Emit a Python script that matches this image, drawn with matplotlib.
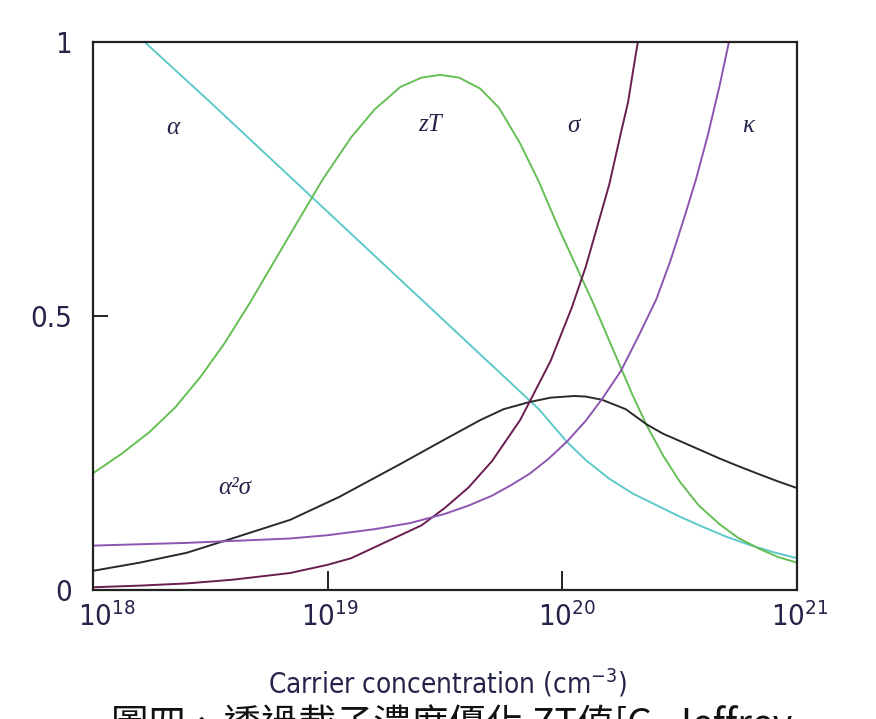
#!/usr/bin/env python3
"""Thermoelectric properties vs carrier concentration (alpha, sigma, kappa, zT)."""

import matplotlib
import numpy as np

matplotlib.use("Agg")
import matplotlib.pyplot as plt
from matplotlib.transforms import ScaledTranslation

# log10 of carrier concentration (cm^-3) and normalised values
alpha_logn = [18.22, 18.5, 18.8, 19.1, 19.4, 19.7, 19.9, 20.02, 20.1, 20.2, 20.3, 20.4,
              20.5, 20.6, 20.7, 20.8, 20.9, 21.0]
alpha_val = [1.0, 0.89, 0.77, 0.65, 0.53, 0.41, 0.33, 0.27, 0.237, 0.203, 0.176, 0.155,
             0.134, 0.115, 0.097, 0.082, 0.069, 0.058]

zt_logn = [18.0, 18.12, 18.24, 18.35, 18.46, 18.56, 18.67, 18.77, 18.88, 18.98, 19.1, 19.2,
           19.31, 19.4, 19.48, 19.56, 19.65, 19.73, 19.82, 19.9, 19.99, 20.06, 20.13, 20.19,
           20.25, 20.3, 20.36, 20.43, 20.5, 20.58, 20.67, 20.75, 20.84, 20.92, 21.0]
zt_val = [0.213, 0.248, 0.288, 0.333, 0.39, 0.45, 0.525, 0.598, 0.678, 0.75, 0.826, 0.877,
          0.918, 0.935, 0.94, 0.935, 0.915, 0.88, 0.815, 0.745, 0.655, 0.59, 0.525, 0.465,
          0.405, 0.355, 0.30, 0.245, 0.198, 0.155, 0.12, 0.095, 0.075, 0.06, 0.05]

pf_logn = [18.0, 18.2, 18.4, 18.6, 18.84, 19.05, 19.31, 19.5, 19.65, 19.75, 19.86, 19.95,
           20.05, 20.1, 20.17, 20.27, 20.36, 20.43, 20.5, 20.67, 20.75, 20.84, 20.92, 21.0]
pf_val = [0.035, 0.05, 0.068, 0.095, 0.128, 0.17, 0.23, 0.275, 0.31, 0.33, 0.343, 0.351,
          0.354, 0.353, 0.347, 0.33, 0.302, 0.285, 0.272, 0.24, 0.226, 0.211, 0.198, 0.186]

sigma_logn = [18.0, 18.2, 18.4, 18.6, 18.84, 19.0, 19.1, 19.31, 19.4, 19.5, 19.6, 19.7,
              19.82, 19.86, 19.95, 20.04, 20.1, 20.15, 20.2, 20.25, 20.28, 20.31, 20.35]
sigma_val = [0.005, 0.008, 0.012, 0.019, 0.031, 0.046, 0.058, 0.10, 0.118, 0.15, 0.187,
             0.235, 0.31, 0.343, 0.418, 0.515, 0.59, 0.665, 0.74, 0.835, 0.89, 0.97, 1.07]

kappa_logn = [18.0, 18.4, 18.84, 19.0, 19.2, 19.35, 19.5, 19.6, 19.7, 19.78, 19.86, 19.94,
              20.02, 20.1, 20.17, 20.25, 20.33, 20.4, 20.46, 20.52, 20.57, 20.62, 20.67,
              20.71, 20.75]
kappa_val = [0.081, 0.086, 0.094, 0.1, 0.111, 0.122, 0.139, 0.154, 0.172, 0.191, 0.212,
             0.239, 0.271, 0.309, 0.349, 0.40, 0.468, 0.53, 0.60, 0.68, 0.75, 0.83, 0.92,
             1.0, 1.1]

x_ticks = [1e18, 1e19, 1e20, 1e21]
x_ticklabels = [r"$\mathregular{10^{18}}$", r"$\mathregular{10^{19}}$",
                r"$\mathregular{10^{20}}$", r"$\mathregular{10^{21}}$"]
y_ticks = [0, 0.5, 1]
y_ticklabels = ["0", "0.5", "1"]

curve_labels = ["α", "zT", "σ", "κ", "α²σ"]
label_pos = [(10**18.34, 0.843), (10**19.436, 0.849), (10**20.046, 0.847),
             (10**20.792, 0.847), (10**18.605, 0.186)]

TEXT = "#24244a"


def main() -> None:
    plt.rcParams["font.family"] = ["DejaVu Sans"]
    plt.rcParams["font.stretch"] = "condensed"
    plt.rcParams["mathtext.fontset"] = "custom"
    plt.rcParams["mathtext.rm"] = "DejaVu Sans:stretch=condensed"

    fig = plt.figure(figsize=(8.76, 7.19), dpi=100)
    ax = fig.add_axes([93 / 876, 1 - 590 / 719, 704 / 876, 548 / 719])

    series = [
        (alpha_logn, alpha_val, "#5ec9c9"),
        (zt_logn, zt_val, "#66bf55"),
        (pf_logn, pf_val, "#2a2a2a"),
        (sigma_logn, sigma_val, "#6a1e50"),
        (kappa_logn, kappa_val, "#8c55b0"),
    ]
    for logn, vals, color in series:
        ax.plot(10 ** np.asarray(logn), vals, color=color, lw=1.4)

    ax.set_xscale("log")
    ax.set_xlim(1e18, 1e21)
    ax.set_ylim(0, 1)
    ax.set_xticks(x_ticks)
    ax.set_xticklabels(x_ticklabels)
    ax.xaxis.set_minor_locator(matplotlib.ticker.NullLocator())
    ax.set_yticks(y_ticks)
    ax.set_yticklabels(y_ticklabels)

    ax.tick_params(axis="x", direction="in", length=14, width=1.4, pad=9,
                   labelsize=21, labelcolor=TEXT, color="#222222")
    ax.tick_params(axis="y", direction="in", length=11, width=1.4, pad=15,
                   labelsize=21, labelcolor=TEXT, color="#222222")
    for s in ax.spines.values():
        s.set_linewidth(1.6)
        s.set_color("#222222")

    # labels in the original sit a little right of their ticks
    for lab, dx in zip(ax.get_xticklabels(), [14, 2, 5, 3]):
        lab.set_transform(lab.get_transform() + ScaledTranslation(dx / 100, 0, fig.dpi_scale_trans))

    for text, (x, y) in zip(curve_labels, label_pos):
        ax.text(x, y, text, ha="center", va="center", fontsize=18, style="italic",
                family=["Liberation Serif", "DejaVu Serif"], color=TEXT)

    fig.text(447 / 876, 1 - 683 / 719, r"Carrier concentration (cm$^{-3}$)",
             ha="center", va="center", fontsize=20, color=TEXT)
    fig.text(111 / 876, 1 - 704 / 719, "圖四、透過載子濃度優化 ZT值[G. Jeffrey",
             ha="left", va="top", fontsize=27, color="#111111",
             family=["Noto Sans CJK TC", "DejaVu Sans"], fontstretch="normal")

    fig.savefig("out.png", dpi=100)
    plt.close(fig)


if __name__ == "__main__":
    main()
